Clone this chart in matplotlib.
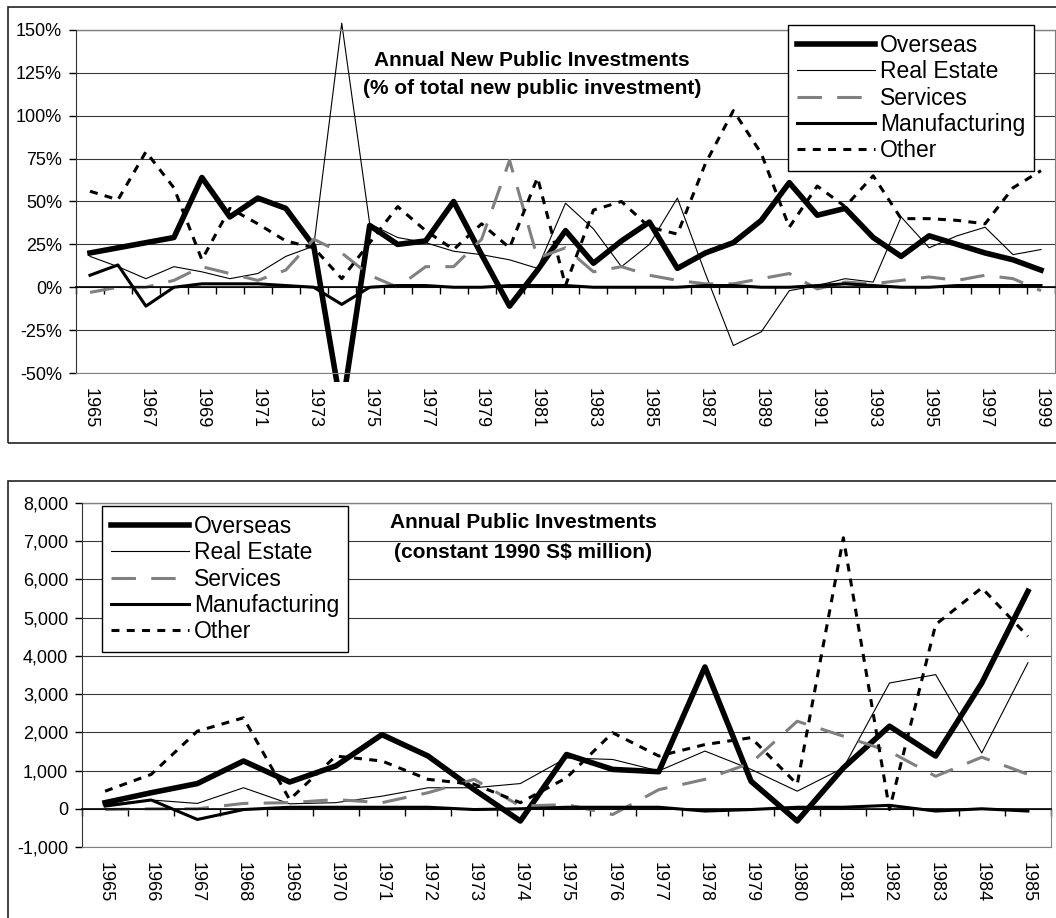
import numpy as np
import matplotlib
matplotlib.use("Agg")
import matplotlib.pyplot as plt
from matplotlib.patches import Rectangle
from matplotlib.ticker import FuncFormatter

plt.rcParams['font.family'] = ['Liberation Sans', 'DejaVu Sans']

# shares of total new public investment, %, 1965-1999
years_pct = list(range(1965, 2000))
overseas_pct = [20, 23, 26, 29, 64, 41, 52, 46, 24, -72,
                36, 25, 27, 50, 19, -11, 10, 33, 14, 27,
                38, 11, 20, 26, 39, 61, 42, 46, 29, 18,
                30, 25, 20, 16, 10]
realestate_pct = [18, 12, 5, 12, 9, 5, 8, 18, 24, 154,
                  37, 29, 26, 21, 19, 16, 11, 49, 34, 12,
                  25, 52, 8, -34, -26, -2, 1, 5, 3, 41,
                  23, 30, 35, 19, 22]
services_pct = [-3, 0, 0, 4, 12, 8, 4, 10, 28, 20,
                7, 0, 12, 12, 28, 74, 17, 23, 9, 12,
                7, 4, 2, 2, 5, 8, -1, 3, 2, 4,
                6, 4, 7, 5, -2]
manufacturing_pct = [7, 13, -11, 0, 2, 2, 2, 1, 0, -10,
                     0, 1, 1, 0, 0, 1, 1, 1, 0, 0,
                     0, 0, 1, 1, 0, 0, 1, 2, 1, 0,
                     0, 1, 1, 1, 1]
other_pct = [56, 51, 79, 58, 16, 46, 37, 27, 23, 5,
             26, 47, 33, 22, 37, 23, 64, 1, 45, 50,
             35, 31, 72, 103, 78, 35, 59, 47, 65, 40,
             40, 39, 37, 58, 68]

# annual public investments, constant 1990 S$ million, 1965-1985
years_abs = list(range(1965, 1986))
overseas_abs = [160, 420, 660, 1250, 700, 1120, 1940, 1380, 500, -320,
                1420, 1030, 970, 3710, 720, -320, 1070, 2160, 1380, 3290, 5690]
realestate_abs = [110, 230, 140, 550, 130, 160, 330, 550, 550, 660,
                  1330, 1290, 990, 1510, 1030, 460, 1070, 3290, 3510, 1460, 3820]
services_abs = [-20, 0, 0, 140, 160, 240, 160, 420, 770, 70,
                110, -150, 500, 770, 1200, 2290, 1900, 1500, 850, 1350, 900]
manufacturing_abs = [70, 230, -280, -20, 40, 40, 40, 40, -20, 0,
                     40, 40, 40, -60, -20, 40, 40, 90, -60, 0, -60]
other_abs = [460, 900, 2030, 2380, 240, 1380, 1250, 770, 640, 160,
             810, 1990, 1380, 1680, 1860, 640, 7090, -20, 4820, 5780, 4510]

names = ['Overseas', 'Real Estate', 'Services', 'Manufacturing', 'Other']
W, H = 1056, 918


def draw_series(ax, series):
    styles = [dict(color='black', lw=4.0),
              dict(color='black', lw=0.8),
              dict(color='#808080', lw=2.2, dashes=(8, 5)),
              dict(color='black', lw=2.2),
              dict(color='black', lw=2.2, dashes=(2.6, 2.4))]
    x = np.arange(len(series[0]))
    clip = Rectangle((0, -0.025), 1, 1.05, transform=ax.transAxes)
    for vals, name, st in zip(series, names, styles):
        line, = ax.plot(x, vals, label=name, **st)
        line.set_clip_path(clip)


def style_axes(ax, n, ylim, yticks, fmt, labelpos, labels):
    ax.set_xlim(-0.5, n - 0.5)
    ax.set_ylim(*ylim)
    ax.set_yticks(yticks)
    ax.yaxis.set_major_formatter(FuncFormatter(fmt))
    ax.grid(axis='y', color='#3a3a3a', lw=0.8)
    ax.set_axisbelow(True)
    ax.set_xticks(labelpos, labels)
    ax.set_xticks(np.arange(-0.5, n), minor=True)
    ax.tick_params(axis='x', which='major', length=0, pad=11, labelsize=13,
                   labelrotation=-90)
    ax.tick_params(axis='x', which='minor', bottom=False, top=True,
                   direction='in', length=5, width=1)
    ax.tick_params(axis='y', which='major', length=5, width=1, pad=5, labelsize=13)
    # category axis crosses at zero
    ax.spines['top'].set_position(('data', 0))
    ax.spines['top'].set_color('black')
    ax.spines['top'].set_linewidth(1.2)
    ax.spines['left'].set_color('#333333')
    ax.spines['bottom'].set_color('#808080')
    ax.spines['right'].set_color('#808080')
    ax.axhline(ylim[1], color='#808080', lw=1, clip_on=False)


fig = plt.figure(figsize=(W / 100, H / 100), dpi=100)

# outer frames
fig.add_artist(Rectangle((8 / W, 1 - 443 / H), 1.2, (443 - 7) / H, transform=fig.transFigure,
                         fill=False, ec='#222222', lw=1.2))
fig.add_artist(Rectangle((8 / W, -0.1), 1.2, 0.1 + 1 - 481 / H, transform=fig.transFigure,
                         fill=False, ec='#222222', lw=1.2))

ax1 = fig.add_axes([76 / W, 1 - 373 / H, 979 / W, 343 / H])
draw_series(ax1, [overseas_pct, realestate_pct, services_pct, manufacturing_pct, other_pct])
style_axes(ax1, len(years_pct), (-50, 150), np.arange(-50, 151, 25),
           lambda v, p: f'{v:.0f}%', np.arange(0, len(years_pct), 2),
           [str(y) for y in years_pct[::2]])

ax2 = fig.add_axes([82 / W, 1 - 847 / H, 969 / W, 344 / H])
draw_series(ax2, [overseas_abs, realestate_abs, services_abs, manufacturing_abs, other_abs])
style_axes(ax2, len(years_abs), (-1000, 8000), np.arange(-1000, 8001, 1000),
           lambda v, p: f'{v:,.0f}', np.arange(len(years_abs)),
           [str(y) for y in years_abs])

leg_kw = dict(loc='upper left', bbox_transform=fig.transFigure, borderaxespad=0,
              fontsize=16.5, handlelength=3.4, handletextpad=0.2, borderpad=0.4,
              labelspacing=0.14, fancybox=False, framealpha=1, edgecolor='black')
l1 = ax1.legend(bbox_to_anchor=(788 / W, 1 - 25 / H), **leg_kw)
l2 = ax2.legend(bbox_to_anchor=(102 / W, 1 - 506 / H), **leg_kw)
for leg in (l1, l2):
    leg.get_frame().set_linewidth(1.0)

fig.text(532 / W, 1 - 60 / H, 'Annual New Public Investments', ha='center', va='center',
         fontsize=15, fontweight='bold')
fig.text(532 / W, 1 - 88 / H, '(% of total new public investment)', ha='center', va='center',
         fontsize=15, fontweight='bold')
fig.text(523 / W, 1 - 523 / H, 'Annual Public Investments', ha='center', va='center',
         fontsize=15, fontweight='bold')
fig.text(523 / W, 1 - 552 / H, '(constant 1990 S$ million)', ha='center', va='center',
         fontsize=15, fontweight='bold')

fig.savefig('out.png', dpi=100)
